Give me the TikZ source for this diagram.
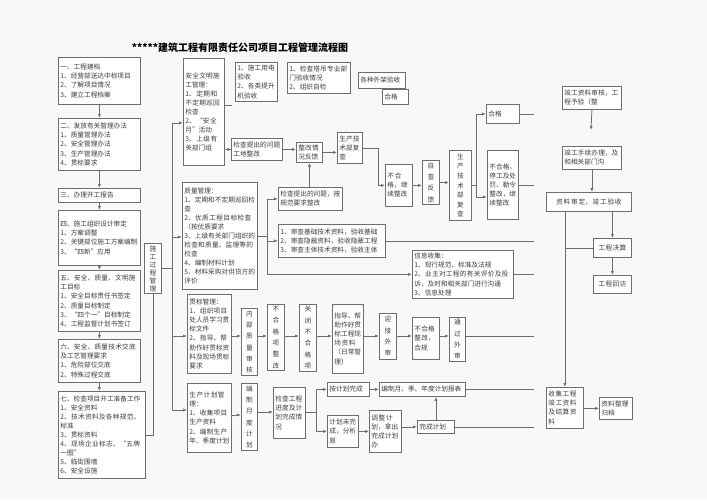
\documentclass[tikz,border=0pt]{standalone}
\usepackage{fontspec}
\setmainfont{Noto Sans CJK SC}
\usetikzlibrary{arrows.meta}
\XeTeXlinebreaklocale "zh"
\XeTeXlinebreakskip=0pt plus 1pt
\definecolor{bgcol}{RGB}{248,248,248}
\definecolor{lncol}{RGB}{110,110,110}
\definecolor{txcol}{RGB}{60,60,60}

\tikzset{every picture/.style={line width=0.6pt}}
\tikzset{
  bx/.style={draw=lncol, fill=white, anchor=north west, inner sep=1.5pt,
    align=left, font=\fontsize{5}{6.8}\selectfont, text=txcol},
  vbx/.style={bx, align=center, text width=5.5pt, font=\fontsize{5}{8.5}\selectfont},
  ln/.style={draw=lncol},
  arr/.style={ln, -{Latex[length=3pt,width=2.4pt]}}
}

\begin{document}
\begin{tikzpicture}[x=0.75pt,y=0.75pt,yscale=-1,xscale=1]
	\fill[bgcol] (0,0) rectangle (707,500);
	\useasboundingbox (0,0) rectangle (707,500);

	% Title
	\node[font=\fontsize{7.5}{9}\selectfont\bfseries] (title) at (240,48) {*****建筑工程有限责任公司项目工程管理流程图};

	% left column
	\node[bx, text width=58.5pt, minimum height=35.25pt] (B1) at (58,57) {一、工程建档\\1、经营部送达中标项目\\2、了解项目情况\\3、建立工程档案};
	\node[bx, text width=58.5pt, minimum height=39pt] (B2) at (58,118) {二、发放有关管理办法\\1、质量管理办法\\2、安全管理办法\\3、生产管理办法\\4、贯标要求};
	\node[bx, text width=58.5pt, minimum height=10.5pt] (B3) at (58,188) {三、办理开工报告};
	\node[bx, text width=58.5pt, minimum height=41.25pt] (B4) at (58,210) {四、施工组织设计审定\\1、方案调整\\2、关键部位施工方案编制\\3、“四新”应用};
	\node[bx, text width=58.5pt, minimum height=45.75pt] (B5) at (58,270) {五、安全、质量、文明施工目标\\1、安全目标责任书签定\\2、质量目标制定\\3、“四个一”目标制定\\4、工程监督计划书签订};
	\node[bx, text width=58.5pt, minimum height=32.25pt] (B6) at (58,339) {六、安全、质量技术交底及工艺管理要求\\1、危险部位交底\\2、特殊过程交底};
	\node[bx, text width=62.25pt, minimum height=65.25pt] (B7) at (58,391) {七、检查项目开工准备工作\\1、安全资料\\2、技术资料及各种规范、标准\\3、贯标资料\\4、现场企业标志、“五牌一图”\\5、临街围墙\\6、安全设施};
	\node[vbx, minimum width=12.75pt, minimum height=35.25pt, font=\fontsize{5}{6}\selectfont] (PM) at (144,243) {施工过程管理};

	% safety
	\node[bx, text width=27.75pt, minimum height=80.25pt] (S1) at (183,58) {安全文明施工管理：\\1、定期和不定期巡回检查\\2、“安全月”活动\\3、上级有关部门组};
	\node[bx, text width=28.5pt, minimum height=29.25pt] (Q1) at (235,62) {1、施工用电验收\\2、各类提升机验收};
	\node[bx, text width=44.25pt, minimum height=23.25pt] (Q2) at (287,62) {1、检查塔吊专业部门验收情况\\2、组织自检};
	\node[bx, text width=32.25pt, minimum height=12pt] (Q3) at (358,72) {各种外架验收};
	\node[bx, text width=16.5pt, minimum height=11.25pt] (Q3b) at (382,89) {合格};
	\node[bx, text width=35.25pt, minimum height=16.5pt] (Q4) at (231,138) {检查提出的问题工地整改};
	\node[bx, text width=16.5pt, minimum height=15pt] (Q5) at (296,142) {整改情况反馈};
	\node[bx, text width=15.75pt, minimum height=23.25pt] (Q6) at (337,132) {生产技术部复查};
	\node[bx, text width=17.25pt, minimum height=31.5pt] (N1) at (385,164) {不合格，继续整改};
	\node[vbx, minimum width=12.75pt, minimum height=31.5pt] (N2) at (422,160) {自查反馈};
	\node[vbx, minimum width=16.5pt, minimum height=52.5pt, font=\fontsize{5}{7.2}\selectfont] (N3) at (449,150) {生产技术部复查};
	\node[bx, text width=21.75pt, minimum height=14.25pt] (N4) at (486,104) {合格};
	\node[bx, text width=20.25pt, minimum height=51.75pt] (N5) at (487,150) {不合格，停工及处罚、勒令整改，继续整改};

	% quality
	\node[bx, text width=53.25pt, minimum height=80.25pt] (M1) at (182,182) {质量管理：\\1、定期和不定期巡回检查\\2、优质工程目标检查（按优质要求\\3、上级有关部门组织的检查和质量、监理等的检查\\4、编制材料计划\\5、材料采购对供货方的评价};
	\node[bx, text width=45pt, minimum height=17.25pt] (Q7) at (278,187) {检查提出的问题，按规范要求整改};
	\node[bx, text width=77.25pt, minimum height=24.75pt] (Q8) at (278,224) {1、审查基础技术资料，验收基础\\2、审查隐蔽资料，验收隐蔽工程\\3、审查主体技术资料，验收主体};
	\node[bx, text width=72.75pt, minimum height=36pt] (Info) at (412,250) {信息收集：\\1、现行规范、标准及法规\\2、业主对工程的有关评价及投诉，及时和相关部门进行沟通\\3、信息处理};

	% standard row
	\node[bx, text width=30pt, minimum height=59.25pt] (G1) at (187,294) {贯标管理：\\1、组织项目处人员学习贯标文件\\2、指导、帮助作好贯标资料及现场贯标要求};
	\node[vbx, minimum width=12pt, minimum height=45pt] (G2) at (241,308) {内部质量审核};
	\node[vbx, minimum width=12.75pt, minimum height=48pt] (G3) at (267,304) {不合格项整改};
	\node[vbx, minimum width=12.75pt, minimum height=48pt] (G4) at (299,304) {关闭不合格项};
	\node[bx, text width=20.25pt, minimum height=51.75pt] (G5) at (332,304) {指导、帮助作好贯标工程现场资料（日常管理）};
	\node[vbx, minimum width=12.75pt, minimum height=34.5pt] (G6) at (379,313) {迎接外审};
	\node[bx, text width=17.25pt, minimum height=31.5pt] (G7) at (412,317) {不合格整改，合规};
	\node[vbx, minimum width=12pt, minimum height=31.5pt] (G8) at (449,317) {通过外审};

	% production row
	\node[bx, text width=30pt, minimum height=51.75pt] (P1) at (187,383) {生产计划管理：\\1、收集项目生产资料\\2、编制生产年、季度计划};
	\node[vbx, minimum width=12pt, minimum height=48pt] (P2) at (241,383) {编制月度计划};
	\node[bx, text width=21pt, minimum height=38.25pt] (P3) at (273,387) {检查工程进度及计划完成情况};
	\node[bx, text width=28.5pt, minimum height=10.5pt] (P4) at (327,382) {按计划完成};
	\node[bx, text width=61.5pt, minimum height=10.5pt] (P5) at (379,382) {编制月、季、年度计划报表};
	\node[bx, text width=20.25pt, minimum height=24pt] (P6) at (327,415) {计划未完成，分析原};
	\node[bx, text width=21pt, minimum height=31.5pt] (P7) at (369,410) {调整计划，拿出完成计划办};
	\node[bx, text width=24.75pt, minimum height=9.75pt] (P8) at (417,420) {完成计划};

	% right column
	\node[bx, text width=41.25pt, minimum height=17.25pt] (R1) at (562,86) {竣工资料审核，工程予验（整};
	\node[bx, text width=41.25pt, minimum height=17.25pt] (R2) at (562,146) {竣工手续办理，及和相关部门沟};
	\node[bx, align=center, text width=60.75pt, minimum height=14.25pt] (R3) at (546,192) {资料审定，竣工验收};
	\node[bx, align=center, text width=25.5pt, minimum height=14.25pt] (R4) at (593,238) {工程决算};
	\node[bx, align=center, text width=25.5pt, minimum height=13.5pt] (R5) at (593,275) {工程回访};
	\node[bx, text width=24.75pt, minimum height=30.75pt] (R6) at (546,387) {收集工程竣工资料及结算资料};
	\node[bx, text width=21.75pt, minimum height=16.5pt] (R7) at (599,397) {资料整理归档};

	\coordinate (busT) at (172,123);
	\coordinate (busB) at (172,410);
	\coordinate (qv) at (267,0);
	\coordinate (turnA) at (378,0);
	\coordinate (fork) at (476,185);
	\coordinate (pv) at (316,0);
	\coordinate (edge) at (534,0);
	\coordinate (sstub) at (232,105);
	\coordinate (rend) at (591,130);

	% left column links
	\draw[arr] (B1.south) -- (B2.north);
	\draw[arr] (B2.south) -- (B3.north);
	\draw[arr] (B3.south) -- (B4.north);
	\draw[arr] (B4.south) -- (B5.north);
	\draw[arr] (B5.south) -- (B6.north);
	\draw[arr] (B6.south) -- (B6.south |- B7.north);
	\draw[ln] (PM.south) |- (B7.east);
	\draw[ln] (PM.east) -- (PM.east -| busT);
	\draw[ln] (busT) -- (busB);
	\draw[arr] (busT) -- (busT -| S1.west);
	\draw[arr] (busT |- 0,237) -- (M1.west |- 0,237);
	\draw[arr] (busT |- 0,336) -- (G1.west |- 0,336);
	\draw[arr] (busB) -- (P1.west |- busB);

	% safety links
	\draw[ln] (S1.east |- sstub) -- (sstub);
	\draw[arr] (Q4.west) -- (S1.east |- Q4.west);
	\draw[arr] (Q4.east) -- (Q5.west |- Q4.east);
	\draw[arr] (Q5.east) -- (Q6.west |- Q5.east);
	\draw[arr] (Q7.north -| Q5.south) -- (Q5.south);
	\draw[arr] (Q6.east) -| (turnA |- N1.west) -- (N1.west);
	\draw[arr] (N1.east) -- (N2.west |- N1.east);
	\draw[arr] (N2.east) -- (N3.west |- N2.east);
	\draw[ln] (N3.east |- fork) -- (fork);
	\draw[arr] (fork) |- (N4.west);
	\draw[arr] (fork) -- ++(0,12) -- (N5.west |- 0,197);
	\draw[ln] (N4.east) -- (N4.east -| edge);
	\draw[ln] (N5.east) -- (N5.east -| edge);

	% quality links
	\draw[ln] (M1.east) -- (M1.east -| qv);
	\draw[ln] (qv |- Q7.west) -- (qv |- Info.west);
	\draw[arr] (qv |- Q7.west) -- (Q7.west);
	\draw[arr] (qv |- Q8.west) -- (Q8.west);
	\draw[arr] (qv |- Info.west) -- (Info.west);
	\draw[ln] (Q8.east) -- (Q8.east -| edge);
	\draw[ln] (Info.east) -- (Info.east -| edge);

	% standard row links
	\draw[arr] (G1.east |- 0,336) -- (G2.west |- 0,336);
	\draw[arr] (G2.east |- 0,336) -- (G3.west |- 0,336);
	\draw[arr] (G3.east |- 0,336) -- (G4.west |- 0,336);
	\draw[arr] (G4.east |- 0,336) -- (G5.west |- 0,336);
	\draw[arr] (G5.east |- 0,336) -- (G6.west |- 0,336);
	\draw[arr] (G6.east |- 0,336) -- (G7.west |- 0,336);
	\draw[arr] (G7.east |- 0,336) -- (G8.west |- 0,336);
	\draw[ln] (G8.east |- 0,336) -- (edge |- 0,336);

	% production row links
	\draw[arr] (P1.east |- 0,415) -- (P2.west |- 0,415);
	\draw[arr] (P2.east |- 0,412) -- (P3.west |- 0,412);
	\draw[ln] (P3.east |- 0,412) -- (pv |- 0,412);
	\draw[arr] (pv |- 0,412) |- (P4.west);
	\draw[arr] (pv |- 0,412) |- (P6.west);
	\draw[arr] (P4.east) -- (P5.west);
	\draw[arr] (P6.east) -- (P7.west |- P6.east);
	\draw[arr] (P7.east |- P8.west) -- (P8.west);
	\draw[arr] (P8.north) -- (P8.north |- P5.south);
	\draw[ln] (P5.east) -- (P5.east -| edge);
	\draw[ln] (P8.east) -- (P8.east -| edge);

	% right column links
	\draw[arr] (R1.south) -- (rend);
	\draw[arr] (R2.south) -- (R2.south |- R3.north);
	\draw[arr] (R4.north |- R3.south) -- (R4.north);
	\draw[arr] (R4.south) -- (R5.north);
	\draw[arr] (R6.north |- R3.south) -- (R6.north);
	\draw[ln] (R4.west) -- (R4.west -| R6.north);
	\draw[arr] (R6.east |- R7.west) -- (R7.west);
\end{tikzpicture}
\end{document}
